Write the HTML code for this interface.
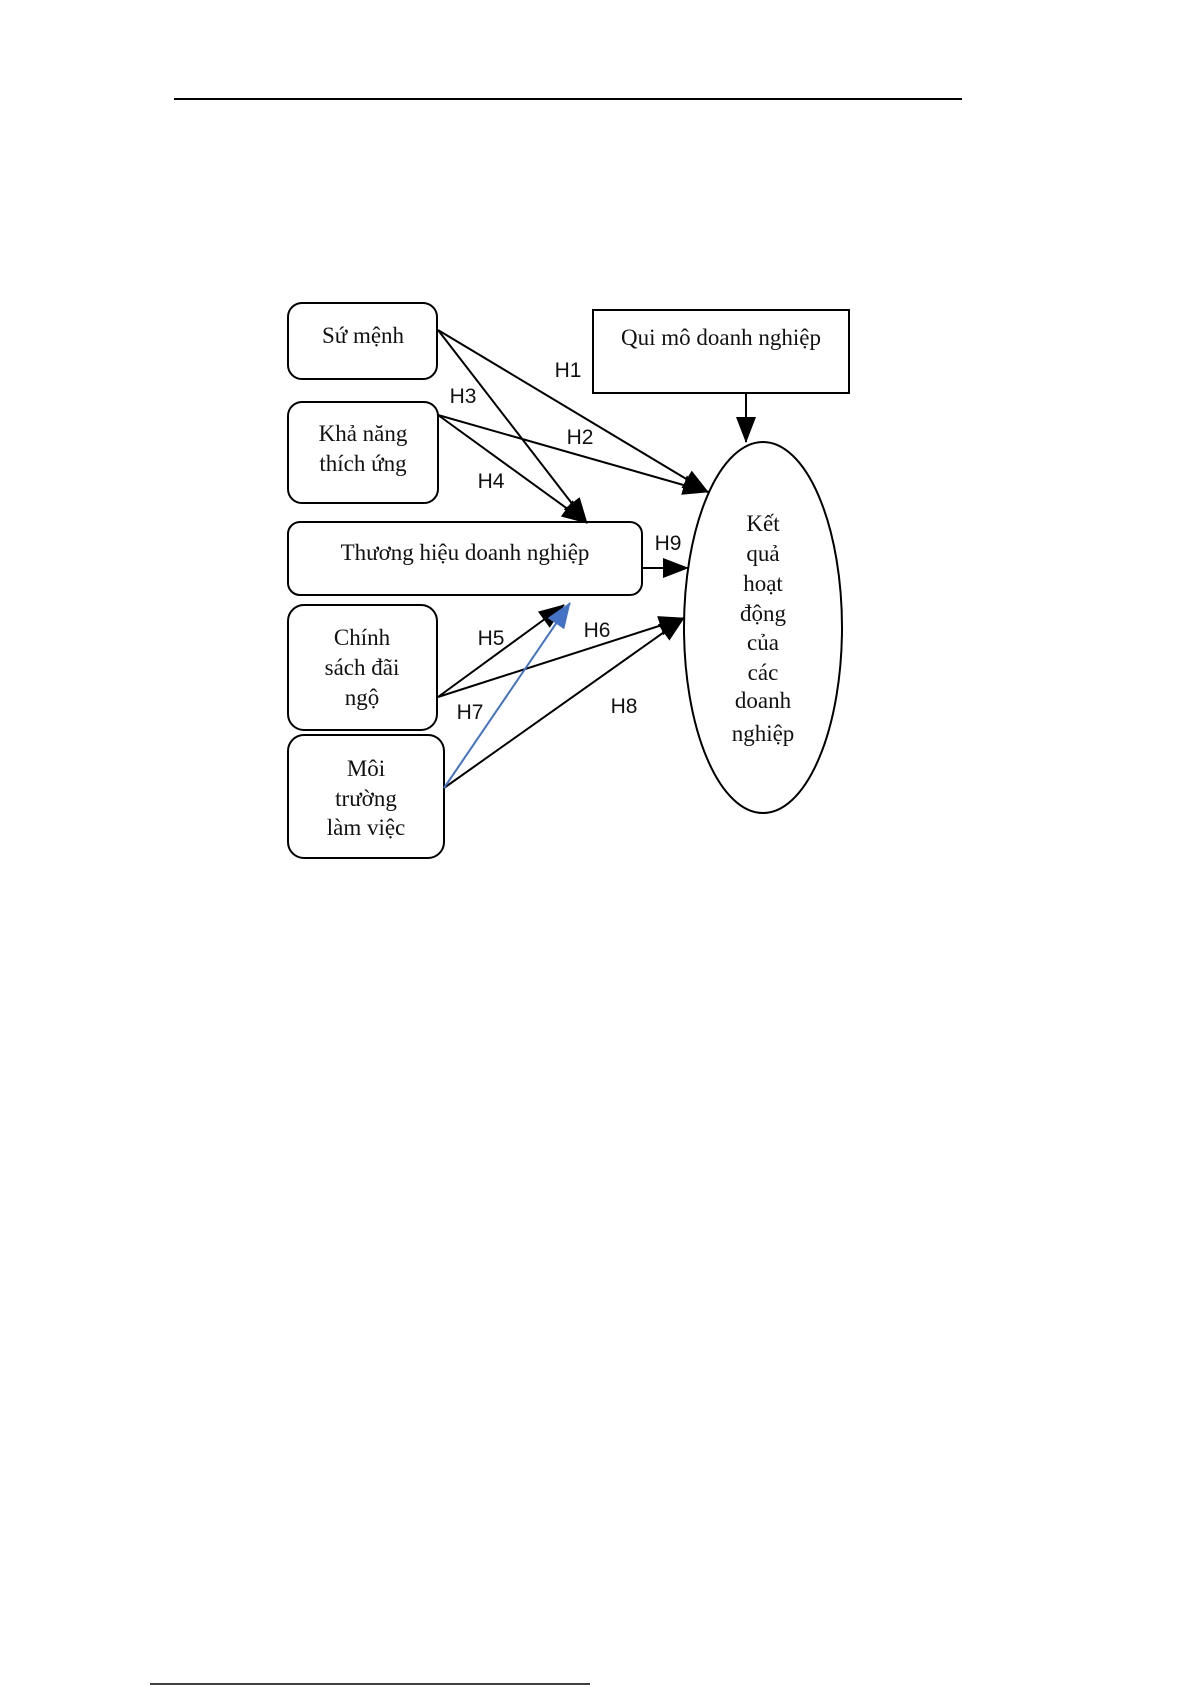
<!DOCTYPE html>
<html><head><meta charset="utf-8"><style>
html,body{margin:0;padding:0;background:#fff;}
svg{display:block;}
.t{font-family:"Liberation Serif",serif;font-size:23px;fill:#111;text-anchor:middle;}
.l{font-family:"Liberation Sans",sans-serif;font-size:21px;fill:#111;text-anchor:middle;}
</style></head><body>
<svg width="1191" height="1685" viewBox="0 0 1191 1685" xmlns="http://www.w3.org/2000/svg">
<defs>
<marker id="a" markerWidth="26" markerHeight="20" refX="25" refY="10" orient="auto" markerUnits="userSpaceOnUse"><path d="M0,0 L26,10 L0,20 z" fill="#000"/></marker>
<marker id="b" markerWidth="26" markerHeight="20" refX="25" refY="10" orient="auto" markerUnits="userSpaceOnUse"><path d="M0,0 L26,10 L0,20 z" fill="#4472c4"/></marker>
</defs>
<line x1="174" y1="99" x2="962" y2="99" stroke="#000" stroke-width="2"/>
<line x1="150" y1="1684" x2="590" y2="1684" stroke="#000" stroke-width="1.5"/>
<g fill="#fff" stroke="#000" stroke-width="2">
<rect x="288" y="303" width="149" height="76" rx="14"/>
<rect x="593" y="310" width="256" height="83"/>
<rect x="288" y="402" width="150" height="101" rx="14"/>
<rect x="288" y="522" width="354" height="73" rx="12"/>
<rect x="288" y="605" width="149" height="125" rx="16"/>
<rect x="288" y="735" width="156" height="123" rx="16"/>
<ellipse cx="763" cy="627.5" rx="79" ry="185.5"/>
</g>
<g stroke="#000" stroke-width="2" fill="none" marker-end="url(#a)">
<line x1="438" y1="330" x2="708" y2="492"/>
<line x1="438" y1="330" x2="587" y2="523"/>
<line x1="438" y1="415" x2="708" y2="492"/>
<line x1="438" y1="415" x2="587" y2="523"/>
<line x1="746" y1="393" x2="746" y2="442"/>
<line x1="642" y1="568" x2="688" y2="568"/>
<line x1="438" y1="697" x2="564" y2="605"/>
<line x1="438" y1="697" x2="684" y2="618"/>
<line x1="444" y1="788" x2="684" y2="618"/>
</g>
<line x1="444" y1="788" x2="570" y2="603" stroke="#4472c4" stroke-width="2" marker-end="url(#b)"/>
<text class="t" x="363" y="343">Sứ mệnh</text>
<text class="t" x="721" y="345">Qui mô doanh nghiệp</text>
<text class="t" x="363" y="441">Khả năng</text>
<text class="t" x="363" y="471">thích ứng</text>
<text class="t" x="465" y="560">Thương hiệu doanh nghiệp</text>
<text class="t" x="362" y="645">Chính</text>
<text class="t" x="362" y="675">sách đãi</text>
<text class="t" x="362" y="705">ngộ</text>
<text class="t" x="366" y="776">Môi</text>
<text class="t" x="366" y="806">trường</text>
<text class="t" x="366" y="835">làm việc</text>
<text class="t" x="763" y="531">Kết</text>
<text class="t" x="763" y="561">quả</text>
<text class="t" x="763" y="591">hoạt</text>
<text class="t" x="763" y="621">động</text>
<text class="t" x="763" y="650">của</text>
<text class="t" x="763" y="680">các</text>
<text class="t" x="763" y="708">doanh</text>
<text class="t" x="763" y="741">nghiệp</text>
<text class="l" x="568" y="377">H1</text>
<text class="l" x="463" y="403">H3</text>
<text class="l" x="580" y="444">H2</text>
<text class="l" x="491" y="488">H4</text>
<text class="l" x="668" y="550">H9</text>
<text class="l" x="491" y="645">H5</text>
<text class="l" x="597" y="637">H6</text>
<text class="l" x="470" y="719">H7</text>
<text class="l" x="624" y="713">H8</text>
</svg>
</body></html>
